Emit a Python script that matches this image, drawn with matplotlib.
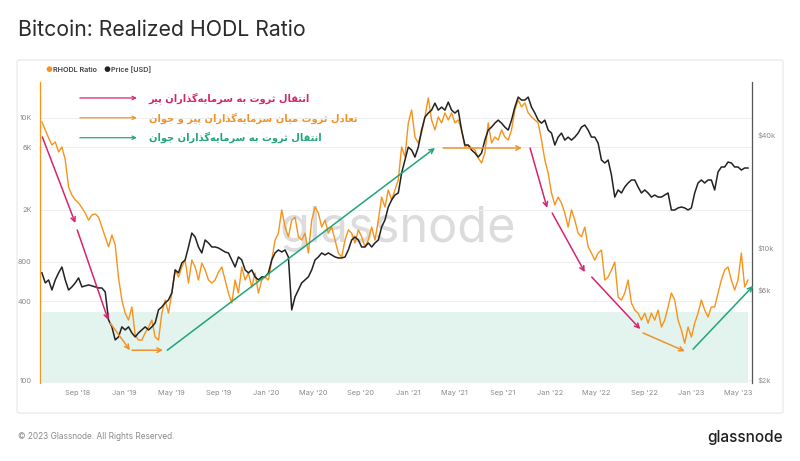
import numpy as np
import pandas as pd
import matplotlib
matplotlib.use("Agg")
from matplotlib import pyplot as plt
import matplotlib.dates as mdates
from matplotlib.patches import FancyBboxPatch

plt.rcParams["font.family"] = ["Inter", "DejaVu Sans"]

# ---------------------------------------------------------------- data (~8.6 day step)
start = "2018-06-02"
step = "206h"

rhodl = [9320, 8100, 7040, 6220, 6560, 5500, 6010, 4780, 2970, 2580, 2370, 2240, 2060, 1880, 1660, 1820,
         1850, 1750, 1470, 1240, 1040, 1280, 1070, 601, 408, 324, 287, 361, 221, 202, 202, 229, 254, 287,
         213, 202, 324, 408, 324, 461, 692, 611, 729, 824, 550, 824, 729, 580, 782, 692, 580, 550,
         580, 667, 729, 580, 461, 387, 580, 461, 729, 580, 656, 513, 656, 461, 580, 611, 580, 824, 1170,
         1320, 1990, 1470, 1240, 1660, 1750, 1240, 1170, 1320, 931, 1660, 2090, 1880, 1470, 1660, 1320,
         1470, 1170, 931, 869, 1170, 1400, 1320, 1110, 1400, 1240, 1040, 1170, 1470, 1170, 1660, 2490,
         2090, 2820, 2370,
         2820, 3370, 6010, 5040, 9160, 11510, 7160, 6440, 7680, 10180, 14220, 9660, 8100, 10180, 9160,
         10920, 9660, 10920, 9160, 9660, 8100, 6010, 6220, 5900, 5700, 4950, 4530, 5410, 9160, 6440, 7160,
         6790, 8100, 7160, 6790, 8100, 11510, 13720, 12140, 13020, 10920, 10180, 9660, 9160, 6790, 4780,
         3800, 2670, 2170, 2490, 2240, 1880, 1470, 1990,
         1660, 1320, 1240, 1470, 1040, 931, 824, 931, 983, 580, 611, 692, 796, 430, 408, 461, 580, 387,
         342, 324, 287, 324, 272, 324, 287, 342, 254, 287, 361, 461, 408, 287, 241, 191, 254, 213, 272,
         324, 408, 342, 303, 361, 361, 461, 580, 692, 729, 580, 486, 580, 931, 513, 580]

price = [7380, 6530, 6770, 5990, 6770, 7380, 7930, 6770, 5990, 6220, 6530, 6940, 6220, 6300, 6370, 6300,
         6220, 6140, 6140, 5850, 4160, 3820, 3260, 3380, 3820, 3680, 3820, 3550, 3380, 3550, 3680, 3820,
         3680, 3820, 4010, 4700, 4870, 5120, 5310, 5780, 7650, 7380, 8330, 8640, 10120, 11990, 11430,
         10120, 9410, 11020, 10630, 10120,
         10120, 10000, 9760, 9520, 9410, 8640, 7930, 8960, 8640, 7650, 7380, 7650, 7030, 6770, 7030, 7030,
         7380, 8640, 9410, 9760, 9520, 9760, 8960, 4700, 5510, 5990, 6530, 6770, 7030, 7650, 8640, 8960,
         9410, 9180, 9410, 9180, 8960, 8850, 8850, 8960, 9760, 11020, 11430, 11020, 10120, 10120, 10630,
         10120, 10630, 11020, 12910, 14070, 16480, 17940,
         19070, 19550, 24930, 29220, 34200, 33010, 30290, 34200, 42090, 49300, 51800, 53700, 58470, 53700,
         55700, 53700, 59200, 53700, 51800, 53700, 42090, 35080, 35080, 33010, 31830, 30290, 31830, 37250,
         42090, 43650, 45820, 47530, 45820, 43650, 42090, 47530, 55700, 62950, 60700, 60700, 62950, 55700,
         51800, 47530, 45820, 47530, 42090, 40580, 35080, 38640, 40580, 37250, 38640, 37250,
         38640, 40580, 43650, 44760, 42090, 38640, 38640, 35920, 29220, 28180, 29220, 24330, 18600, 20280,
         19550, 21030, 22080, 22900, 22900, 21030, 19550, 20280, 19550, 18600, 19070, 18600, 18600, 19070,
         19550, 15890, 15890, 16290, 16480, 16290, 15890, 16290, 19550, 22080, 22900, 22080, 22900, 22900,
         20280, 25240, 26840, 26840, 28510, 28180, 26840, 26840, 25860, 26510, 26510]

dates = pd.date_range(start, periods=len(rhodl), freq=step)

zone_top = 330  # shaded low-RHODL band

left_ticks = [100, 400, 800, 2000, 6000, 10000]
left_labels = ["100", "400", "800", "2K", "6K", "10K"]
right_ticks = [2000, 6000, 10000, 40000]
right_labels = ["$2k", "$6k", "$10k", "$40k"]
xticks = pd.date_range("2018-09-01", "2023-05-01", freq="4MS")

# annotation arrows: (start date, start value, end date, end value, colour) in RHODL units
PINK = "#d6246e"
ORNG = "#f0922b"
GREEN = "#1fa57a"
arrows = [
    ("2018-06-03", 7160, "2018-08-27", 1578, PINK),
    ("2018-09-01", 1397, "2018-11-20", 287, PINK),
    ("2018-11-25", 272, "2019-01-15", 169, ORNG),
    ("2019-01-20", 169, "2019-04-10", 169, ORNG),
    ("2019-04-21", 169, "2021-03-11", 5900, GREEN),
    ("2021-04-01", 5900, "2021-10-21", 5900, ORNG),
    ("2021-11-11", 5900, "2021-12-25", 2060, PINK),
    ("2022-01-07", 1880, "2022-04-01", 667, PINK),
    ("2022-04-19", 611, "2022-08-22", 245, PINK),
    ("2022-08-29", 229, "2022-12-15", 166, ORNG),
    ("2023-01-05", 172, "2023-06-09", 523, GREEN),
]

notes = ["انتقال ثروت به سرمایه\u200cگذاران پیر",
         "تعادل ثروت میان سرمایه\u200cگذاران پیر و جوان",
         "انتقال ثروت به سرمایه\u200cگذاران جوان"]
note_colors = [PINK, ORNG, GREEN]

# ---------------------------------------------------------------- persian shaping (matplotlib has no bidi)
forms = {
    "\u0627": "\uFE8D\uFE8E", "\u062F": "\uFEA9\uFEAA", "\u0630": "\uFEAB\uFEAC",
    "\u0631": "\uFEAD\uFEAE", "\u0648": "\uFEED\uFEEE",
    "\u0628": "\uFE8F\uFE90\uFE91\uFE92", "\u062A": "\uFE95\uFE96\uFE97\uFE98",
    "\u062B": "\uFE99\uFE9A\uFE9B\uFE9C", "\u062C": "\uFE9D\uFE9E\uFE9F\uFEA0",
    "\u0633": "\uFEB1\uFEB2\uFEB3\uFEB4", "\u0639": "\uFEC9\uFECA\uFECB\uFECC",
    "\u0642": "\uFED5\uFED6\uFED7\uFED8", "\u0644": "\uFEDD\uFEDE\uFEDF\uFEE0",
    "\u0645": "\uFEE1\uFEE2\uFEE3\uFEE4", "\u0646": "\uFEE5\uFEE6\uFEE7\uFEE8",
    "\u0647": "\uFEE9\uFEEA\uFEEB\uFEEC", "\u067E": "\uFB56\uFB57\uFB58\uFB59",
    "\u06AF": "\uFB92\uFB93\uFB94\uFB95", "\u06CC": "\uFBFC\uFBFD\uFBFE\uFBFF",
    "\u064A": "\uFEF1\uFEF2\uFEF3\uFEF4",
}


def shape_fa(s):
    out = []
    for i, ch in enumerate(s):
        f = forms.get(ch)
        if f is None:
            if ch != "\u200c":
                out.append(ch)
            continue
        prev = s[i - 1] if i > 0 else ""
        nxt = s[i + 1] if i + 1 < len(s) else ""
        join_prev = len(forms.get(prev, "")) == 4
        join_next = len(f) == 4 and nxt in forms
        out.append(f[(1 if join_prev else 0) + (2 if join_next else 0)])
    return "".join(reversed(out))


# ---------------------------------------------------------------- figure
fig = plt.figure(figsize=(8, 4.61), dpi=100)
fig.patch.set_facecolor("white")

panel = FancyBboxPatch((0.0213, 0.104), 0.9575, 0.766, boxstyle="round,pad=0,rounding_size=0.004",
                       transform=fig.transFigure, facecolor="white", edgecolor="#e6e6e6", lw=0.8, zorder=-10)
fig.patches.append(panel)

fig.text(0.022, 0.934, "Bitcoin: Realized HODL Ratio", fontsize=15.3, color="#2b2b2b", va="center")
fig.text(0.022, 0.054, "© 2023 Glassnode. All Rights Reserved.", fontsize=6, color="#8a8a8a", va="center")
fig.text(0.979, 0.052, "glassnode", fontsize=11, color="#1e1e1e", va="center", ha="right", weight="medium")

# legend
fig.text(0.0615, 0.848, "●", fontsize=5.5, color="#f7931a", va="center", ha="center")
fig.text(0.0665, 0.848, "RHODL Ratio", fontsize=5.2, color="#444444", va="center", weight="semibold")
fig.text(0.1335, 0.848, "●", fontsize=5.5, color="#222222", va="center", ha="center")
fig.text(0.139, 0.848, "Price [USD]", fontsize=5.2, color="#444444", va="center", weight="semibold")

ax = fig.add_axes([0.05, 0.1692, 0.89, 0.6529])
ax2 = ax.twinx()

ax.set_yscale("log")
ax2.set_yscale("log")
ax.set_ylim(95, 18800)
ax2.set_ylim(1927, 75650)
ax.set_xlim(pd.Timestamp("2018-05-28"), pd.Timestamp("2023-06-06"))

ax.fill_between(dates, ax.get_ylim()[0], zone_top, color="#e3f4ee", lw=0, zorder=0)
ax.text(0.503, 0.468, "glassnode", transform=ax.transAxes, fontsize=35, color="#dcdcdc",
        ha="center", va="baseline", zorder=0.5)
ax.plot(dates, rhodl, color="#f7931a", lw=1.0, zorder=2)
ax2.plot(dates, price, color="#222222", lw=1.1, zorder=2)

for x0, y0, x1, y1, c in arrows:
    p0 = (mdates.date2num(pd.Timestamp(x0)), float(y0))
    p1 = (mdates.date2num(pd.Timestamp(x1)), float(y1))
    ax2.annotate("", xy=p1, xytext=p0,
                 xycoords=ax.transData, textcoords=ax.transData, annotation_clip=False,
                 arrowprops=dict(arrowstyle="->", color=c, lw=1.1, shrinkA=0, shrinkB=0,
                                 mutation_scale=8))

for i, (txt, c) in enumerate(zip(notes, note_colors)):
    yy = 0.947 - i * 0.066
    ax2.annotate("", xy=(0.136, yy), xytext=(0.056, yy), xycoords="axes fraction",
                 arrowprops=dict(arrowstyle="->", color=c, lw=0.9, shrinkA=0, shrinkB=0,
                                 mutation_scale=6))
    ax2.text(0.153, yy, shape_fa(txt), transform=ax.transAxes, color=c, fontsize=7.1,
             family=["DejaVu Sans"], weight="bold", va="center", ha="left")

# axes styling
ax.set_yticks(left_ticks)
ax.set_yticklabels(left_labels)
ax.yaxis.set_minor_locator(matplotlib.ticker.NullLocator())
ax2.set_yticks(right_ticks)
ax2.set_yticklabels(right_labels)
ax2.yaxis.set_minor_locator(matplotlib.ticker.NullLocator())
ax.set_xticks(xticks)
ax.set_xticklabels([d.strftime("%b '%y") for d in xticks])

ax.tick_params(axis="both", length=0, labelsize=5.3, labelcolor="#8a8a8a")
ax.tick_params(axis="y", pad=6)
ax.tick_params(axis="x", pad=5)
ax2.tick_params(axis="y", length=0, labelsize=5.3, labelcolor="#8a8a8a", pad=4)
ax.grid(axis="y", color="#eeeeee", lw=0.7)
ax.set_axisbelow(True)

for s in ["top", "bottom", "right"]:
    ax.spines[s].set_visible(False)
for s in ["top", "bottom", "left"]:
    ax2.spines[s].set_visible(False)
ax.spines["left"].set_color("#f7931a")
ax.spines["left"].set_linewidth(0.9)
ax2.spines["right"].set_color("#555555")
ax2.spines["right"].set_linewidth(0.9)

plt.savefig("out.png", dpi=100)
